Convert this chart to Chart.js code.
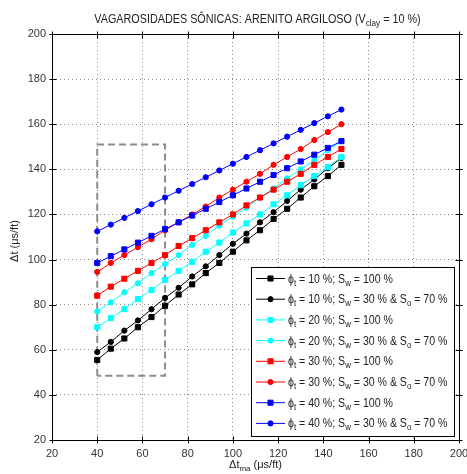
<!DOCTYPE html>
<html>
<head>
<meta charset="utf-8">
<script src="https://cdn.jsdelivr.net/npm/chart.js@4.4.1/dist/chart.umd.min.js"></script>
<style>
html, body { margin: 0; padding: 0; background: #fff; }
#chart { display: block; }
</style>
</head>
<body>
<canvas id="chart" width="467" height="474"></canvas>
<script>
// matrix slowness (us/ft) on the x axis
var dtMatrix = [40, 46, 52, 58, 64, 70, 76, 82, 88, 94, 100, 106, 112, 118, 124, 130, 136, 142, 148];

// total slowness, one list per curve
var phi10Water = [55.5, 60.5, 65, 70, 74.5, 79.5, 84.5, 89, 94, 98.5, 103.5, 108.5, 113, 118, 122.5, 127.5, 132.5, 137, 142];
var phi10Oil   = [59, 63.5, 68.5, 73, 78, 83, 87.5, 92.5, 97, 102, 107, 111.5, 116.5, 121, 126, 131, 135.5, 140.5, 145];
var phi20Water = [70, 74, 78, 82.5, 86.5, 91, 95, 99, 103.5, 107.5, 112, 116, 120, 124.5, 128.5, 133, 137, 141, 145.5];
var phi20Oil   = [77, 81, 85.5, 89.5, 94, 98, 102, 106.5, 110.5, 115, 119, 123, 127.5, 131.5, 136, 140, 144, 148.5, 152.5];
var phi30Water = [84, 88, 91.5, 95, 98.5, 102, 106, 109.5, 113, 116.5, 120, 124, 127.5, 131, 134.5, 138, 142, 145.5, 149];
var phi30Oil   = [94.5, 98.5, 102, 105.5, 109, 113, 116.5, 120, 123.5, 127.5, 131, 134.5, 138, 142, 145.5, 149, 153, 156.5, 160];
var phi40Water = [98.5, 101.5, 104.5, 107.5, 110.5, 113.5, 116.5, 119.5, 122.5, 125.5, 128.5, 131.5, 134.5, 137.5, 140.5, 143.5, 146.5, 149.5, 152.5];
var phi40Oil   = [112.5, 115.5, 118.5, 121.5, 124.5, 127.5, 130.5, 133.5, 136.5, 139.5, 142.5, 145.5, 148.5, 151.5, 154.5, 157.5, 160.5, 163.5, 166.5];

// dashed box (corners)
var boxX = [40, 40, 70, 70, 40];
var boxY = [48.5, 151, 151, 48.5, 48.5];

var xTicks = [20, 40, 60, 80, 100, 120, 140, 160, 180, 200];
var yTicks = [20, 40, 60, 80, 100, 120, 140, 160, 180, 200];

var series = [
    { data: phi10Water, color: '#000000', marker: 'rect',   phi: '10', oil: false },
    { data: phi10Oil,   color: '#000000', marker: 'circle', phi: '10', oil: true },
    { data: phi20Water, color: '#00ffff', marker: 'rect',   phi: '20', oil: false },
    { data: phi20Oil,   color: '#00ffff', marker: 'circle', phi: '20', oil: true },
    { data: phi30Water, color: '#ff0000', marker: 'rect',   phi: '30', oil: false },
    { data: phi30Oil,   color: '#ff0000', marker: 'circle', phi: '30', oil: true },
    { data: phi40Water, color: '#0000ff', marker: 'rect',   phi: '40', oil: false },
    { data: phi40Oil,   color: '#0000ff', marker: 'circle', phi: '40', oil: true }
];

var FONT = '"Liberation Sans", Arial, Helvetica, sans-serif';

function pts(xs, ys) {
    return xs.map(function(x, i) { return { x: x, y: ys[i] }; });
}

var datasets = series.map(function(s, i) {
    return {
        data: pts(dtMatrix, s.data),
        borderColor: s.color,
        backgroundColor: s.color,
        borderWidth: 1,
        pointStyle: s.marker,
        pointRadius: s.marker == 'rect' ? 3.6 : 2.6,
        pointBorderWidth: 1,
        pointBorderColor: s.color,
        pointBackgroundColor: s.color,
        order: 10 - i
    };
});
datasets.push({
    data: pts(boxX, boxY),
    borderColor: '#8c8c8c',
    borderWidth: 2,
    borderDash: [7, 4],
    pointRadius: 0,
    order: 20
});

// draws text pieces, some of them as subscripts
function richText(ctx, x, y, parts, size, align, squeeze) {
    var sub = Math.round(size * 0.72);
    squeeze = squeeze || 1;
    var w = 0;
    parts.forEach(function(p) {
        ctx.font = (p.sub ? sub : size) + 'px ' + FONT;
        w += ctx.measureText(p.t).width;
    });
    w *= squeeze;
    var cx = align == 'center' ? x - w / 2 : x;
    ctx.save();
    ctx.translate(cx, y);
    ctx.scale(squeeze, 1);
    var px = 0;
    parts.forEach(function(p) {
        ctx.font = (p.sub ? sub : size) + 'px ' + FONT;
        ctx.fillText(p.t, px, p.sub ? 3 : 0);
        px += ctx.measureText(p.t).width;
    });
    ctx.restore();
}

var decor = {
    id: 'decor',
    afterDraw: function(chart) {
        var ctx = chart.ctx, a = chart.chartArea;
        var xs = chart.scales.x, ys = chart.scales.y;
        ctx.save();
        ctx.strokeStyle = '#000';
        ctx.lineWidth = 1;
        var L = Math.round(a.left) + 0.5, R = Math.round(a.right) + 0.5;
        var T = Math.round(a.top) + 0.5, B = Math.round(a.bottom) + 0.5;
        ctx.strokeRect(L, T, R - L, B - T);
        ctx.beginPath();
        xTicks.forEach(function(v) {
            var px = Math.round(xs.getPixelForValue(v)) + 0.5;
            ctx.moveTo(px, B + 3); ctx.lineTo(px, B - 4);
            ctx.moveTo(px, T - 3); ctx.lineTo(px, T + 4);
        });
        yTicks.forEach(function(v) {
            var py = Math.round(ys.getPixelForValue(v)) + 0.5;
            ctx.moveTo(L - 3, py); ctx.lineTo(L + 4, py);
            ctx.moveTo(R + 3, py); ctx.lineTo(R - 4, py);
        });
        ctx.stroke();

        ctx.fillStyle = '#222';
        ctx.textBaseline = 'alphabetic';
        ctx.textAlign = 'left';
        // title
        richText(ctx, (a.left + a.right) / 2 + 2, 23, [
            { t: 'VAGAROSIDADES SÔNICAS: ARENITO ARGILOSO (V' },
            { t: 'clay', sub: true },
            { t: ' = 10 %)' }
        ], 12, 'center', 0.9);
        // x label
        richText(ctx, (a.left + a.right) / 2, 468, [
            { t: 'Δt' }, { t: 'ma', sub: true }, { t: ' (μs/ft)' }
        ], 11, 'center');
        // y label
        ctx.save();
        ctx.translate(18, (a.top + a.bottom) / 2 + 4);
        ctx.rotate(-Math.PI / 2);
        richText(ctx, 0, 0, [{ t: 'Δt (μs/ft)' }], 11, 'center');
        ctx.restore();

        // legend
        var lx = 251.5, ly = 267.5, lw = 203, lh = 169;
        ctx.fillStyle = '#fff';
        ctx.fillRect(lx, ly, lw, lh);
        ctx.strokeStyle = '#000';
        ctx.strokeRect(lx, ly, lw, lh);
        series.forEach(function(s, i) {
            var ry = 278.5 + i * 20.7;
            ctx.strokeStyle = s.color;
            ctx.fillStyle = s.color;
            ctx.lineWidth = 1;
            ctx.beginPath();
            ctx.moveTo(256, ry); ctx.lineTo(285, ry);
            ctx.stroke();
            Chart.helpers.drawPoint(ctx, {
                pointStyle: s.marker,
                radius: s.marker == 'rect' ? 3.6 : 2.6,
                borderWidth: 1
            }, 270.5, ry);
            ctx.fillStyle = '#222';
            var parts = [{ t: 'ϕ' }, { t: 't', sub: true }, { t: ' = ' + s.phi + ' %; S' }, { t: 'w', sub: true }];
            if (s.oil) {
                parts.push({ t: ' = 30 % & S' }, { t: 'o', sub: true }, { t: ' = 70 %' });
            } else {
                parts.push({ t: ' = 100 %' });
            }
            richText(ctx, 288, ry + 4, parts, 12, 'left', 0.88);
        });
        ctx.restore();
    }
};

var chart = new Chart(document.getElementById('chart'), {
    type: 'line',
    data: { datasets: datasets },
    options: {
        responsive: false,
        animation: false,
        layout: { padding: { top: 34, right: 8, left: 0, bottom: 0 } },
        plugins: { legend: { display: false }, tooltip: { enabled: false } },
        scales: {
            x: {
                type: 'linear', min: 20, max: 200,
                afterBuildTicks: function(s) { s.ticks = xTicks.map(function(v) { return { value: v }; }); },
                afterFit: function(s) { s.height = 34; s.paddingLeft = 0; s.paddingRight = 0; },
                grid: { color: '#8a8a8a', drawTicks: false, lineWidth: 1 },
                border: { display: false, dash: [1, 3] },
                ticks: { color: '#333', padding: 7, maxRotation: 0, font: { family: FONT, size: 11 } }
            },
            y: {
                type: 'linear', min: 20, max: 200,
                afterBuildTicks: function(s) { s.ticks = yTicks.map(function(v) { return { value: v }; }); },
                afterFit: function(s) { s.width = 52; s.paddingTop = 0; s.paddingBottom = 0; },
                grid: { color: '#8a8a8a', drawTicks: false, lineWidth: 1 },
                border: { display: false, dash: [1, 3] },
                ticks: { color: '#333', padding: 6, font: { family: FONT, size: 11 } }
            }
        }
    },
    plugins: [decor]
});
</script>
</body>
</html>
